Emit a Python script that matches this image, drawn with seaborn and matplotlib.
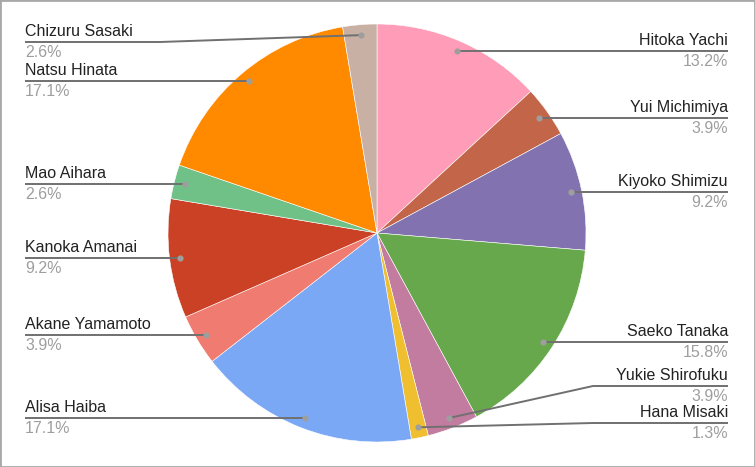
import numpy as np
import seaborn as sns
import matplotlib.pyplot as plt
from matplotlib.patches import Rectangle

names = ['Hitoka Yachi', 'Yui Michimiya', 'Kiyoko Shimizu', 'Saeko Tanaka',
         'Yukie Shirofuku', 'Hana Misaki', 'Alisa Haiba', 'Akane Yamamoto',
         'Kanoka Amanai', 'Mao Aihara', 'Natsu Hinata', 'Chizuru Sasaki']
counts = [10, 3, 7, 12, 3, 1, 13, 3, 7, 2, 13, 2]
colors = ['#FF9DB8', '#C26548', '#8273B0', '#67A84D', '#C27C9F', '#F0BF30',
          '#7AA8F5', '#EF7B71', '#CB4125', '#6FC188', '#FF8A00', '#C9B0A4']

sns.set_style('white')
plt.rcParams['font.family'] = ['Liberation Sans', 'DejaVu Sans']

W, H = 755, 467
fig = plt.figure(figsize=(W / 100, H / 100), dpi=100)
ax = fig.add_axes([0, 0, 1, 1])

cx, cy, r = 377, H - 233, 209
ax.pie(counts, colors=colors, startangle=90, counterclock=False,
       center=(cx, cy), radius=r,
       wedgeprops=dict(edgecolor='white', linewidth=0.4))
ax.set_xlim(0, W)
ax.set_ylim(0, H)
ax.axis('off')

total = sum(counts)
frac = np.array(counts) / total
mid = np.cumsum(frac) - frac / 2
theta = np.deg2rad(90 - 360 * mid)
dot_x = cx + 0.95 * r * np.cos(theta)
dot_y = cy + 0.95 * r * np.sin(theta)

# label line heights that are pushed away from the dot
label_y = dict(zip(names, dot_y))
label_y['Chizuru Sasaki'] = H - 42
label_y['Yukie Shirofuku'] = H - 386
label_y['Hana Misaki'] = H - 423

line_c = '#707070'
for i, name in enumerate(names):
    ly = label_y[name]
    right = dot_x[i] > cx
    pct = f'{frac[i] * 100:.1f}%'
    if right:
        tx, ha, elbow = 728, 'right', 593
    else:
        tx, ha, elbow = 25, 'left', 160
    if abs(ly - dot_y[i]) > 0.5:
        xs = [dot_x[i], elbow, tx]
        ys = [dot_y[i], ly, ly]
    else:
        xs = [dot_x[i], tx]
        ys = [ly, ly]
    ax.plot(xs, ys, color=line_c, lw=1.4, solid_capstyle='butt', zorder=3)
    ax.scatter([dot_x[i]], [dot_y[i]], s=20, color='#9E9E9E', zorder=4, linewidths=0)
    ax.text(tx, ly + 3, name, ha=ha, va='bottom', fontsize=11.5, color='#222222')
    ax.text(tx, ly - 3, pct, ha=ha, va='top', fontsize=11.5, color='#9E9E9E')

fig.patches.append(Rectangle((0, 0), 1, 1, transform=fig.transFigure,
                             fill=False, edgecolor='#A8A8A8', lw=2))

fig.savefig('out.png', dpi=100)
